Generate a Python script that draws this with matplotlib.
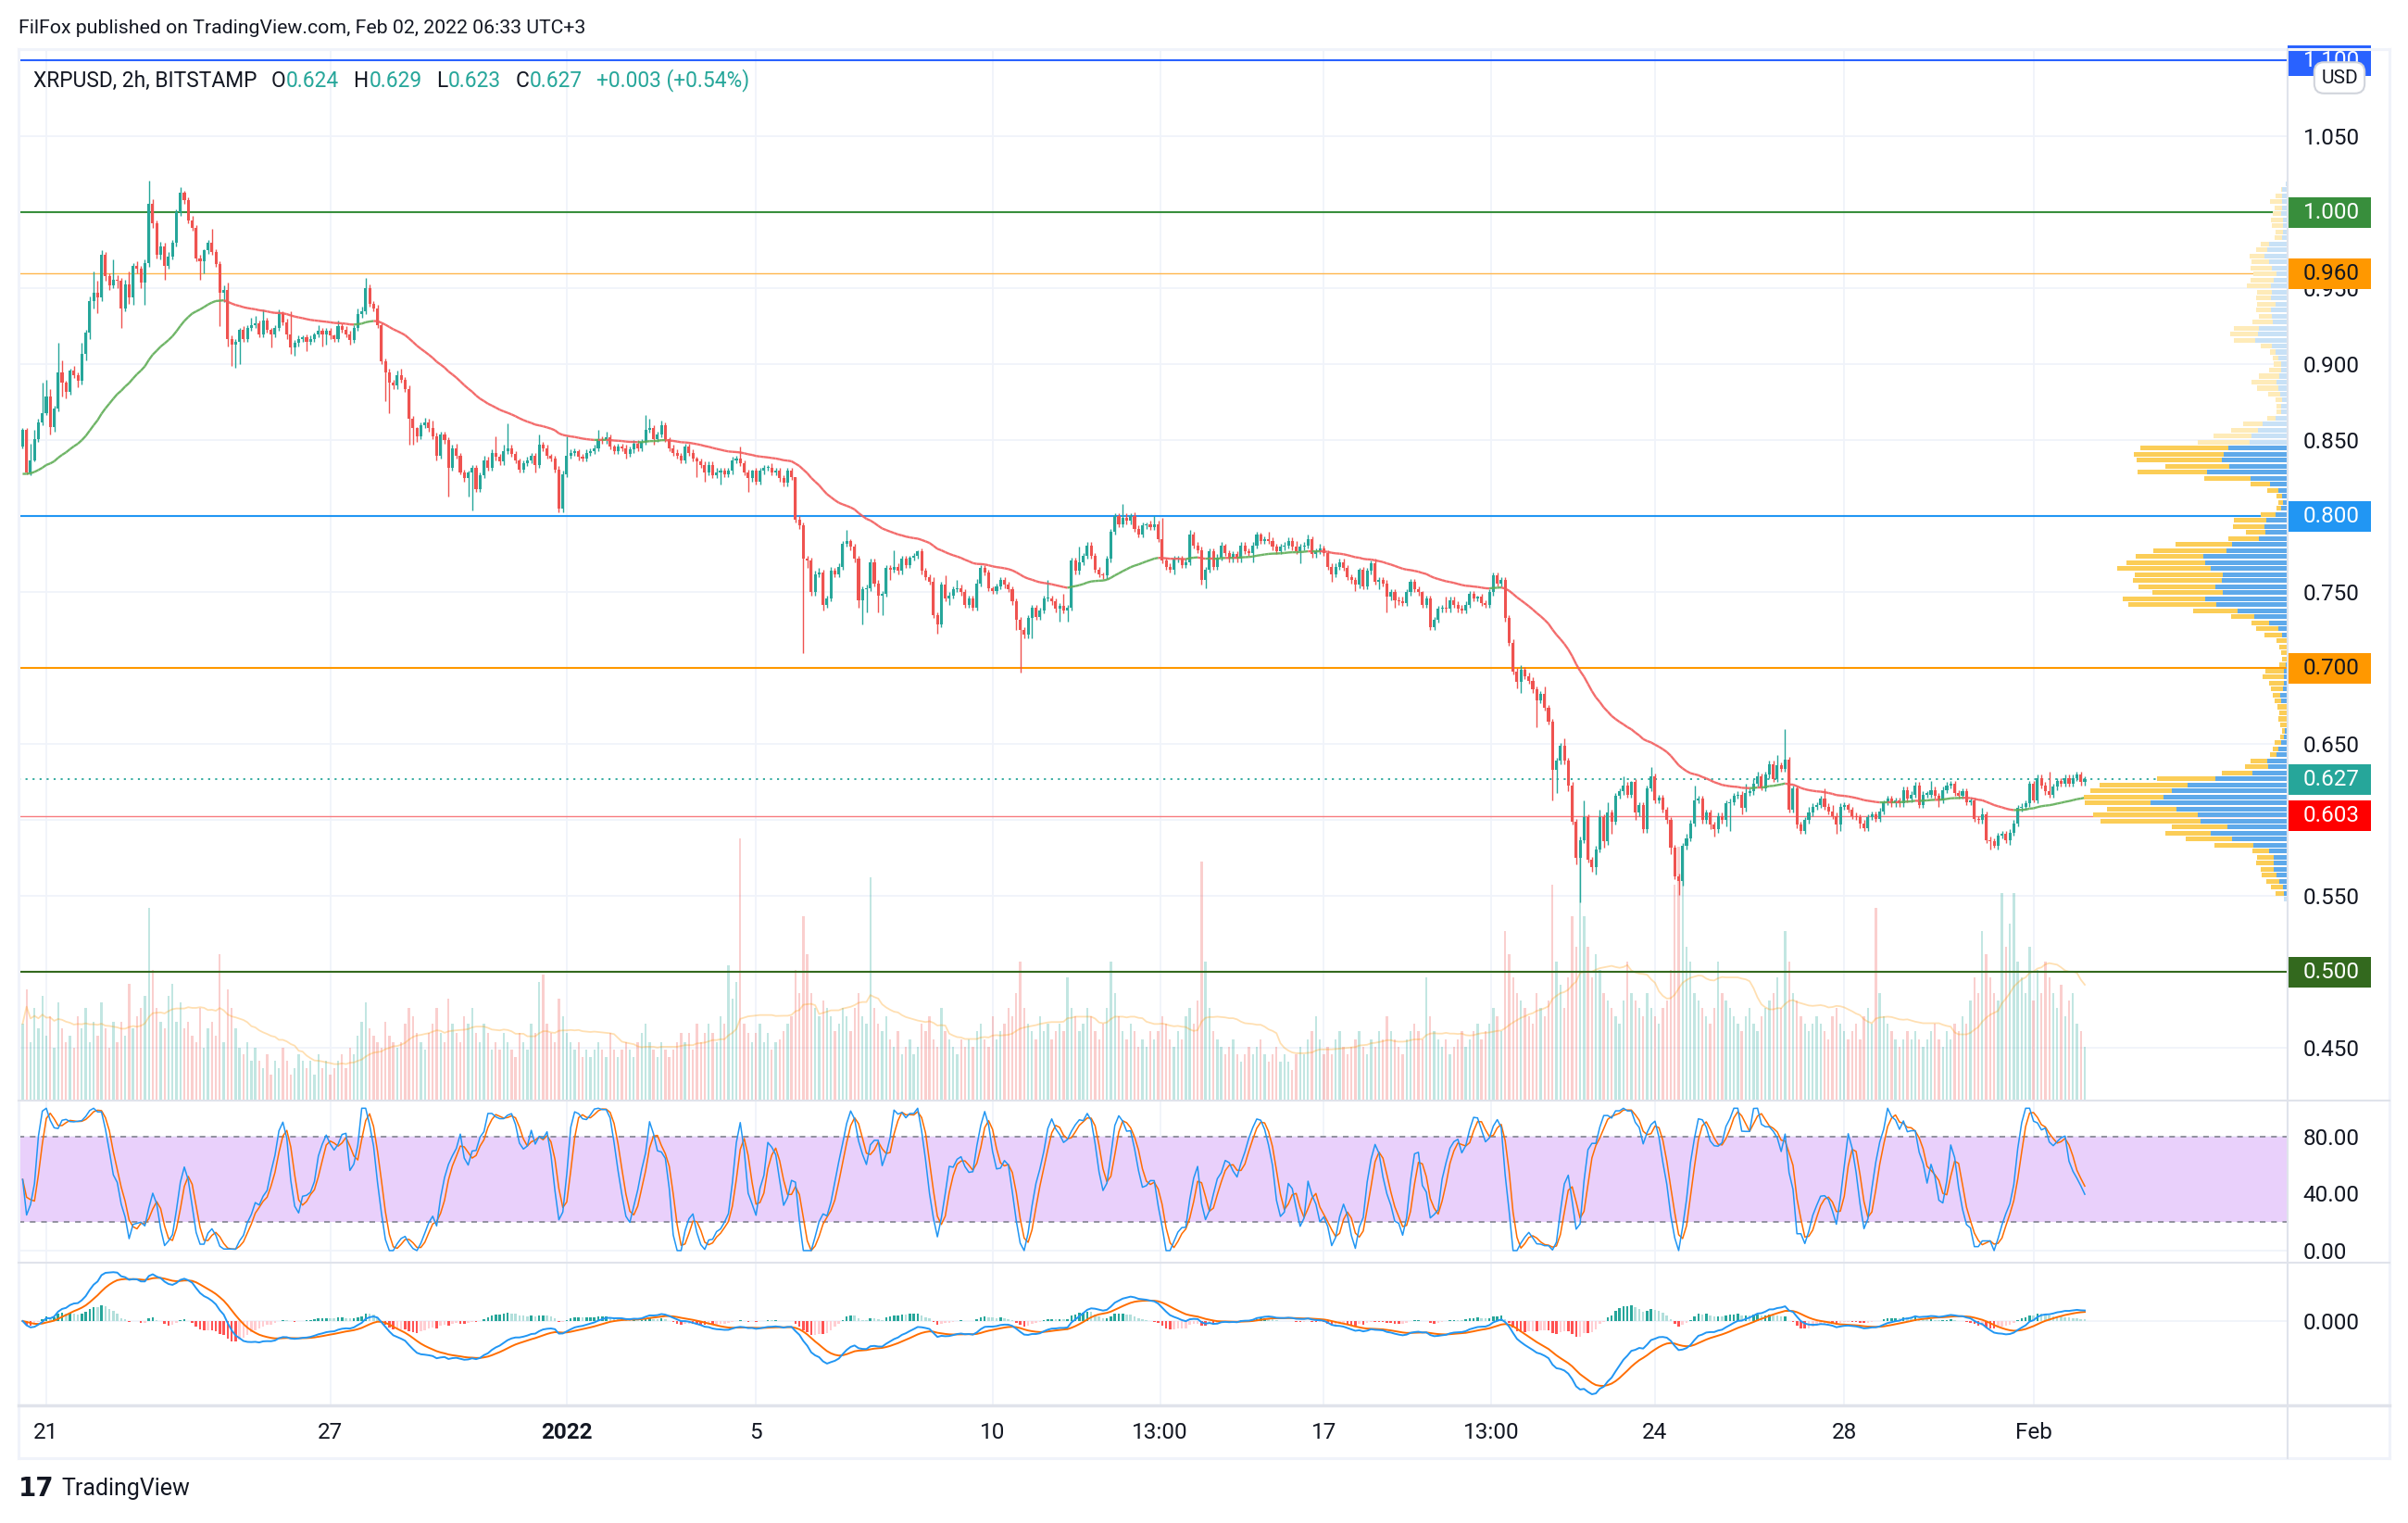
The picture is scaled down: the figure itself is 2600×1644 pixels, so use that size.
import numpy as np
import pandas as pd
import matplotlib
matplotlib.use("Agg")
import matplotlib.pyplot as plt
from matplotlib.collections import LineCollection
from matplotlib.lines import Line2D
from matplotlib.patches import Rectangle
from matplotlib.transforms import blended_transform_factory

plt.rcParams['font.family'] = ['Roboto', 'DejaVu Sans']

# XRPUSD 2h candles (Bitstamp). prices in 1/1000 USD,
# one row = one day (12 bars), first bar Dec 20 12:00
first_open = 846
closes = [
    857, 829, 837, 851, 862, 868, 879, 859, 871, 895, 888, 882,
    896, 893, 889, 907, 921, 942, 947, 944, 972, 958, 952, 956,
    955, 937, 953, 944, 965, 963, 954, 967, 1006, 993, 972, 978,
    965, 971, 980, 1000, 1013, 1008, 995, 990, 970, 968, 975, 980,
    974, 966, 947, 949, 917, 913, 915, 923, 917, 924, 926, 927,
    920, 929, 923, 920, 924, 933, 928, 920, 911, 914, 917, 918,
    915, 917, 920, 922, 920, 922, 919, 917, 925, 923, 920, 916,
    924, 933, 935, 950, 940, 937, 926, 902, 895, 888, 886, 893,
    890, 884, 864, 858, 853, 860, 862, 858, 853, 840, 854, 850,
    832, 845, 840, 829, 825, 829, 832, 818, 827, 837, 832, 842,
    839, 836, 843, 845, 841, 837, 831, 835, 837, 840, 834, 847,
    845, 840, 838, 831, 805, 828, 840, 842, 843, 839, 838, 842,
    843, 845, 851, 850, 852, 846, 843, 846, 845, 841, 844, 848,
    845, 849, 857, 858, 851, 854, 860, 851, 845, 842, 840, 837,
    846, 842, 838, 836, 834, 829, 834, 827, 829, 830, 828, 830,
    837, 838, 835, 829, 825, 830, 823, 830, 832, 832, 829, 830,
    825, 822, 830, 826, 798, 794, 772, 771, 750, 762, 763, 742,
    746, 764, 762, 767, 782, 784, 780, 772, 745, 752, 753, 770,
    756, 748, 749, 766, 765, 767, 764, 772, 768, 773, 774, 777,
    764, 760, 757, 735, 729, 755, 746, 748, 752, 753, 750, 742,
    746, 740, 756, 766, 763, 753, 751, 754, 758, 755, 752, 744,
    732, 725, 722, 733, 740, 734, 738, 746, 746, 744, 739, 741,
    738, 740, 771, 764, 770, 774, 781, 774, 765, 762, 761, 772,
    790, 800, 795, 799, 797, 800, 792, 788, 794, 795, 793, 795,
    785, 771, 767, 765, 772, 772, 768, 770, 788, 781, 778, 758,
    765, 777, 767, 773, 781, 776, 772, 775, 772, 781, 777, 776,
    781, 788, 784, 785, 784, 780, 777, 780, 781, 784, 780, 777,
    780, 781, 785, 775, 777, 779, 776, 767, 762, 767, 770, 766,
    760, 758, 755, 765, 754, 764, 769, 757, 758, 756, 747, 750,
    745, 744, 743, 750, 757, 752, 750, 742, 746, 727, 732, 739,
    740, 739, 745, 742, 739, 738, 742, 749, 746, 747, 743, 742,
    750, 761, 756, 758, 733, 717, 698, 691, 699, 695, 692, 686,
    679, 683, 674, 665, 633, 639, 649, 639, 623, 599, 575, 587,
    602, 574, 569, 581, 602, 586, 605, 599, 616, 619, 623, 617,
    625, 605, 610, 594, 621, 629, 613, 615, 607, 600, 582, 563,
    560, 583, 588, 598, 613, 614, 600, 605, 597, 594, 603, 600,
    611, 612, 616, 617, 608, 618, 619, 624, 629, 621, 630, 637,
    627, 636, 634, 640, 607, 621, 597, 593, 600, 605, 609, 610,
    614, 609, 606, 603, 597, 609, 610, 607, 603, 602, 598, 595,
    602, 604, 601, 606, 612, 614, 611, 613, 611, 620, 614, 617,
    623, 610, 617, 617, 620, 616, 613, 620, 623, 624, 618, 616,
    619, 612, 613, 601, 600, 604, 587, 586, 583, 590, 591, 587,
    592, 598, 608, 609, 611, 624, 613, 628, 623, 619, 617, 622,
    626, 624, 628, 624, 628, 630, 625, 627,
]
# upper / lower wick beyond the body, 1/1000 USD
wick_up = [
    1, 1, 11, 6, 2, 20, 11, 5, 2, 19, 8, 1,
    1, 3, 2, 7, 2, 3, 14, 8, 3, 2, 2, 13,
    3, 2, 3, 8, 2, 3, 2, 2, 15, 3, 2, 3,
    2, 3, 2, 2, 4, 1, 2, 3, 2, 2, 1, 2,
    9, 2, 2, 3, 5, 2, 2, 1, 2, 2, 5, 5,
    2, 7, 2, 1, 2, 3, 2, 2, 15, 2, 2, 1,
    2, 2, 1, 4, 2, 2, 2, 1, 4, 2, 2, 2,
    2, 4, 3, 7, 3, 2, 2, 1, 2, 2, 2, 3,
    4, 2, 2, 2, 1, 2, 3, 2, 5, 2, 2, 2,
    2, 2, 3, 2, 2, 1, 2, 2, 2, 3, 2, 2,
    11, 2, 4, 16, 2, 2, 1, 2, 2, 2, 2, 7,
    2, 2, 1, 2, 2, 2, 13, 2, 2, 1, 2, 2,
    2, 2, 6, 2, 4, 2, 1, 2, 2, 2, 2, 2,
    2, 2, 10, 6, 2, 2, 3, 2, 1, 2, 2, 2,
    2, 2, 2, 1, 2, 2, 2, 2, 3, 2, 2, 2,
    2, 2, 8, 2, 2, 1, 2, 2, 2, 2, 3, 2,
    2, 2, 2, 2, 0, 2, 2, 2, 2, 2, 3, 2,
    2, 3, 2, 2, 2, 7, 1, 2, 2, 2, 2, 2,
    2, 2, 2, 2, 2, 11, 2, 2, 2, 1, 2, 1,
    2, 2, 2, 3, 2, 2, 6, 2, 2, 5, 2, 2,
    2, 2, 3, 2, 2, 2, 1, 2, 2, 2, 2, 2,
    2, 2, 2, 2, 2, 2, 2, 2, 12, 2, 2, 2,
    8, 2, 2, 2, 10, 2, 2, 2, 2, 2, 1, 2,
    2, 2, 2, 9, 3, 2, 3, 2, 2, 1, 2, 5,
    2, 14, 2, 2, 2, 2, 2, 2, 3, 2, 2, 2,
    2, 2, 2, 2, 2, 1, 2, 2, 2, 2, 2, 2,
    2, 2, 1, 2, 5, 2, 2, 2, 2, 2, 2, 4,
    2, 2, 3, 2, 2, 3, 2, 2, 2, 2, 2, 2,
    2, 2, 2, 1, 2, 2, 2, 3, 2, 2, 2, 2,
    2, 2, 3, 2, 2, 2, 2, 1, 2, 2, 2, 2,
    2, 7, 2, 2, 2, 3, 2, 2, 2, 1, 2, 2,
    2, 2, 2, 2, 2, 2, 2, 2, 3, 2, 2, 2,
    2, 2, 5, 2, 2, 2, 2, 5, 2, 2, 2, 2,
    11, 2, 2, 2, 5, 2, 7, 2, 2, 2, 6, 2,
    1, 2, 2, 2, 2, 6, 2, 2, 2, 2, 2, 2,
    2, 2, 3, 2, 10, 2, 2, 2, 2, 2, 2, 2,
    2, 2, 2, 2, 2, 6, 2, 3, 3, 2, 2, 2,
    2, 7, 2, 20, 2, 2, 2, 2, 2, 4, 2, 2,
    2, 7, 2, 4, 2, 2, 2, 1, 2, 2, 2, 2,
    2, 2, 2, 2, 1, 2, 2, 2, 2, 2, 2, 2,
    2, 2, 2, 2, 6, 2, 2, 2, 2, 2, 2, 2,
    2, 2, 2, 2, 2, 4, 2, 2, 2, 2, 2, 2,
    2, 2, 2, 2, 2, 2, 2, 2, 2, 2, 13, 2,
    2, 2, 2, 2, 2, 2, 2, 2,
]
wick_dn = [
    1, 1, 2, 1, 2, 2, 1, 5, 3, 2, 9, 4,
    2, 2, 4, 2, 4, 4, 5, 10, 2, 3, 3, 2,
    5, 13, 2, 4, 5, 3, 4, 15, 3, 3, 2, 3,
    9, 2, 2, 2, 2, 2, 2, 2, 2, 12, 8, 2,
    2, 2, 22, 6, 5, 14, 15, 15, 2, 2, 2, 2,
    2, 2, 2, 9, 2, 2, 2, 3, 4, 5, 2, 2,
    6, 2, 2, 2, 8, 7, 2, 2, 2, 2, 2, 3,
    2, 2, 2, 2, 2, 2, 2, 2, 19, 20, 2, 2,
    2, 2, 17, 11, 4, 2, 2, 2, 2, 3, 2, 2,
    19, 2, 2, 1, 2, 12, 25, 2, 2, 2, 2, 2,
    2, 2, 2, 2, 2, 2, 2, 2, 2, 2, 5, 2,
    2, 2, 2, 2, 2, 2, 2, 2, 2, 2, 2, 2,
    2, 2, 2, 2, 2, 2, 2, 2, 2, 3, 2, 2,
    2, 2, 2, 2, 4, 2, 2, 2, 2, 2, 2, 2,
    2, 2, 2, 10, 2, 6, 2, 2, 2, 8, 2, 2,
    2, 2, 2, 2, 9, 2, 2, 2, 2, 2, 2, 2,
    2, 2, 2, 2, 2, 2, 62, 5, 2, 2, 2, 4,
    2, 2, 2, 2, 2, 2, 2, 2, 5, 16, 15, 2,
    2, 11, 13, 2, 7, 2, 2, 2, 2, 2, 2, 2,
    2, 2, 2, 2, 6, 2, 2, 4, 2, 2, 2, 2,
    2, 2, 2, 2, 2, 2, 2, 2, 2, 2, 2, 2,
    7, 28, 2, 2, 13, 2, 2, 2, 2, 2, 2, 8,
    2, 7, 2, 2, 2, 2, 2, 2, 2, 2, 2, 2,
    2, 2, 2, 2, 2, 2, 2, 2, 2, 2, 2, 2,
    2, 2, 2, 2, 3, 2, 2, 2, 2, 2, 2, 3,
    5, 2, 2, 2, 2, 2, 2, 2, 2, 2, 2, 2,
    6, 2, 2, 2, 2, 2, 2, 2, 2, 2, 2, 2,
    8, 2, 2, 2, 2, 2, 2, 2, 5, 2, 2, 2,
    2, 2, 4, 2, 2, 2, 2, 2, 5, 2, 10, 2,
    5, 2, 2, 2, 2, 2, 2, 2, 2, 2, 2, 2,
    2, 2, 2, 2, 2, 2, 2, 2, 2, 2, 2, 2,
    2, 2, 2, 2, 2, 2, 2, 4, 7, 2, 2, 2,
    18, 2, 2, 2, 20, 15, 2, 2, 4, 2, 4, 29,
    2, 2, 3, 5, 2, 4, 2, 8, 2, 2, 2, 2,
    2, 5, 2, 2, 2, 2, 2, 2, 2, 2, 4, 2,
    9, 3, 2, 2, 2, 2, 2, 2, 3, 5, 2, 2,
    4, 18, 2, 2, 4, 2, 2, 2, 2, 1, 2, 2,
    2, 2, 2, 2, 2, 2, 2, 2, 2, 2, 2, 2,
    2, 2, 2, 2, 6, 4, 2, 2, 2, 2, 3, 2,
    2, 2, 2, 2, 2, 2, 2, 2, 2, 2, 2, 2,
    2, 2, 2, 2, 2, 2, 4, 2, 2, 2, 2, 2,
    2, 2, 2, 2, 2, 2, 2, 5, 1, 2, 2, 2,
    3, 2, 2, 2, 2, 2, 1, 2, 2, 2, 2, 2,
    2, 2, 2, 2, 2, 2, 2, 2,
]
# volume, in relative units (height of the bar on the reference)
volume = [
    50, 72, 38, 60, 47, 68, 42, 55, 34, 64, 47, 38,
    42, 34, 55, 47, 60, 38, 51, 42, 64, 47, 34, 51,
    38, 51, 42, 76, 47, 55, 60, 68, 125, 85, 60, 51,
    47, 68, 76, 51, 64, 47, 51, 42, 38, 60, 34, 47,
    51, 42, 95, 38, 72, 60, 47, 34, 30, 38, 26, 34,
    26, 21, 30, 17, 26, 21, 34, 26, 17, 21, 30, 26,
    21, 26, 17, 30, 21, 26, 17, 21, 26, 30, 21, 34,
    30, 42, 51, 64, 47, 42, 38, 34, 51, 42, 38, 34,
    38, 50, 60, 55, 44, 38, 33, 44, 50, 60, 44, 38,
    66, 50, 44, 38, 55, 50, 60, 44, 38, 50, 44, 33,
    38, 33, 44, 38, 33, 28, 44, 38, 33, 50, 44, 77,
    82, 50, 44, 38, 66, 55, 44, 38, 33, 38, 28, 33,
    28, 33, 38, 33, 28, 44, 33, 28, 33, 38, 33, 28,
    38, 44, 50, 38, 33, 28, 38, 33, 28, 33, 38, 44,
    38, 44, 33, 50, 38, 44, 50, 44, 38, 55, 50, 88,
    66, 77, 170, 50, 44, 38, 44, 50, 38, 44, 33, 38,
    40, 45, 50, 55, 85, 70, 120, 95, 70, 60, 55, 65,
    60, 55, 45, 50, 60, 55, 45, 60, 70, 55, 50, 145,
    60, 50, 45, 55, 40, 35, 45, 30, 35, 40, 30, 35,
    50, 45, 55, 40, 35, 60, 45, 40, 35, 30, 40, 35,
    40, 35, 45, 50, 40, 35, 55, 40, 45, 50, 60, 55,
    70, 90, 60, 50, 45, 40, 55, 45, 50, 40, 45, 50,
    45, 80, 60, 55, 45, 50, 60, 55, 45, 40, 50, 60,
    90, 70, 55, 45, 40, 50, 45, 35, 40, 35, 45, 40,
    45, 55, 50, 40, 35, 45, 40, 55, 60, 50, 65, 155,
    90, 60, 45, 40, 35, 30, 35, 40, 30, 25, 30, 35,
    30, 35, 40, 30, 25, 30, 35, 25, 30, 25, 20, 30,
    35, 30, 40, 45, 55, 40, 30, 35, 30, 40, 45, 35,
    30, 35, 40, 45, 35, 30, 40, 35, 45, 40, 55, 45,
    40, 35, 30, 40, 45, 50, 45, 40, 80, 55, 45, 40,
    35, 40, 30, 35, 40, 45, 35, 40, 45, 50, 40, 45,
    50, 60, 55, 45, 110, 95, 80, 70, 65, 60, 55, 50,
    70, 60, 55, 65, 140, 90, 75, 60, 80, 120, 100, 160,
    120, 100, 80, 95, 85, 70, 65, 60, 55, 50, 65, 90,
    70, 65, 60, 55, 70, 60, 55, 50, 60, 65, 85, 140,
    165, 145, 100, 90, 70, 65, 60, 55, 50, 60, 90, 70,
    65, 60, 55, 50, 45, 55, 60, 50, 45, 55, 60, 65,
    70, 80, 60, 110, 90, 70, 65, 55, 50, 45, 50, 55,
    50, 45, 40, 55, 60, 50, 45, 40, 45, 50, 40, 55,
    60, 50, 125, 70, 55, 50, 45, 40, 35, 40, 45, 40,
    45, 40, 35, 40, 45, 50, 40, 35, 45, 40, 50, 45,
    55, 50, 65, 80, 70, 110, 95, 80, 70, 65, 135, 100,
    115, 135, 90, 80, 70, 100, 65, 85, 70, 90, 80, 70,
    60, 75, 55, 65, 70, 50, 45, 35,
]
assert len(closes) == len(wick_up) == len(wick_dn) == len(volume) == 524

ma_start = 0.828   # moving average value at the first bar

level_prices = [1.100, 1.000, 0.960, 0.800, 0.700, 0.603, 0.500]
level_line_colors = ['#2962ff', '#388e3c', '#ffb74d', '#2196f3', '#ff9800', '#f77c80', '#33691e']
level_box_colors = ['#2962ff', '#388e3c', '#ff9800', '#2196f3', '#ff9800', '#ff0000', '#33691e']
level_text_colors = ['white', 'white', '#131722', 'white', '#131722', 'white', 'white']
last_price = 0.627

tick_times = ['2021-12-21', '2021-12-27', '2022-01-01', '2022-01-05', '2022-01-10',
              '2022-01-13 13:00', '2022-01-17', '2022-01-20 13:00', '2022-01-24',
              '2022-01-28', '2022-02-01']
tick_labels = ['21', '27', '2022', '5', '10', '13:00', '17', '13:00', '24', '28', 'Feb']

# ------------------------------------------------------------------
W, H = 2600, 1644
TXT = '#131722'
UP, DN = '#26a69a', '#ef5350'
GRID = '#f0f3fa'
BORDER = '#e0e3eb'
FS = 17.5
VALUE_AREA = 0.80

n = len(closes)
c = np.array(closes) / 1000
o = np.r_[first_open, closes[:-1]] / 1000
hi = np.maximum(o, c) + np.array(wick_up) / 1000
lo = np.minimum(o, c) - np.array(wick_dn) / 1000
vol = np.array(volume, float)
up = c >= o

day0 = pd.Timestamp('2021-12-21')
times = pd.Timestamp('2021-12-20 12:00') + pd.to_timedelta(np.arange(n) * 2, unit='h')
x = np.asarray((times - day0) / pd.Timedelta(days=1), float)
bw = 1 / 12
tick_x = [(pd.Timestamp(s) - day0) / pd.Timedelta(days=1) for s in tick_times]

XMIN, XMAX = -0.587, 47.37
YMIN, YMAX = 0.4155, 1.1076

fig = plt.figure(figsize=(W / 100, H / 100), dpi=100)


def px_axes(x0, y0, x1, y1):
    return fig.add_axes([x0 / W, 1 - y1 / H, (x1 - x0) / W, (y1 - y0) / H])


ax = px_axes(20, 53, 2470, 1188)
ax_st = px_axes(20, 1188, 2470, 1363)
ax_md = px_axes(20, 1363, 2470, 1517)
for a in (ax, ax_st, ax_md):
    a.set_xlim(XMIN, XMAX)
    a.set_xticks(tick_x)
    a.grid(True, color=GRID, lw=1.3)
    a.set_axisbelow(True)
    for s in a.spines.values():
        s.set_visible(False)
    a.yaxis.tick_right()
    a.tick_params(length=0, labelsize=FS, labelcolor=TXT)
    a.tick_params(axis='y', pad=12)
ax.tick_params(labelbottom=False)
ax_st.tick_params(labelbottom=False)

# ---- price pane ----
ax.set_ylim(YMIN, YMAX)
yt = np.round(np.arange(0.45, 1.0501, 0.05), 3)
covered = set(level_prices) | {0.600}   # hidden behind the price labels
ax.set_yticks(yt)
ax.set_yticklabels(['' if v in covered else f'{v:.3f}' for v in yt])

# volume overlay at the bottom of the pane
vs = (YMAX - YMIN) / 683
vcol = np.where(up, UP, DN)
ax.bar(x, vol * vs, bottom=YMIN, width=bw * 0.55, color=vcol, alpha=0.28, lw=0, zorder=1)
vma = pd.Series(vol).rolling(20, min_periods=1).mean().values
ax.plot(x, YMIN + vma * vs, color='#ff9800', alpha=0.3, lw=1.3, zorder=1.2)

# horizontal levels
for p, lc in zip(level_prices, level_line_colors):
    lw = 1.0 if lc in ('#ffb74d', '#f77c80') else 1.5
    ax.axhline(p, color=lc, lw=lw, zorder=2)
ax.axhline(last_price, color=UP, lw=1.3, ls=(0, (1.2, 3)), zorder=2)

# moving average (EMA 50), green while rising, red while falling
ma = np.empty(n)
ma[0] = ma_start
for i in range(1, n):
    ma[i] = ma[i - 1] + (c[i] - ma[i - 1]) * 2 / 51
segs = np.stack([np.c_[x[:-1], ma[:-1]], np.c_[x[1:], ma[1:]]], axis=1)
seg_col = np.where(np.diff(ma) >= 0, '#5fad56', '#f25c5c')
ax.add_collection(LineCollection(segs, colors=seg_col, lw=1.7, alpha=0.9, zorder=5))

# candles
ax.vlines(x, lo, hi, colors=vcol, lw=1.0, zorder=3)
ax.bar(x, np.maximum(np.abs(c - o), 0.0008), bottom=np.minimum(o, c), width=bw * 0.72,
       color=vcol, lw=0, zorder=4)

# visible range volume profile
n_rows = 120
edges = np.linspace(lo.min(), hi.max(), n_rows + 1)
up_v = np.zeros(n_rows)
dn_v = np.zeros(n_rows)
for i in range(n):
    rng = max(hi[i] - lo[i], 1e-6)
    ov = np.clip(np.minimum(edges[1:], hi[i]) - np.maximum(edges[:-1], lo[i]), 0, None) / rng
    if up[i]:
        up_v += ov * vol[i]
    else:
        dn_v += ov * vol[i]
tot = up_v + dn_v
poc = int(tot.argmax())
a_lo = a_hi = poc
acc = tot[poc]
while acc < VALUE_AREA * tot.sum():
    nxt_hi = tot[a_hi + 1] if a_hi + 1 < n_rows else -1
    nxt_lo = tot[a_lo - 1] if a_lo > 0 else -1
    if nxt_hi >= nxt_lo:
        a_hi += 1
        acc += nxt_hi
    else:
        a_lo -= 1
        acc += nxt_lo
in_va = (np.arange(n_rows) >= a_lo) & (np.arange(n_rows) <= a_hi)
sc = 4.3 / tot.max()
centers = (edges[:-1] + edges[1:]) / 2
rh = (edges[1] - edges[0]) * 0.78
ax.barh(centers, up_v * sc, left=XMAX - up_v * sc, height=rh,
        color=np.where(in_va, '#5ea9ea', '#c8e1f6'), lw=0, zorder=6)
ax.barh(centers, dn_v * sc, left=XMAX - tot * sc, height=rh,
        color=np.where(in_va, '#fbcd57', '#feebb9'), lw=0, zorder=6)

# price scale labels
tr = blended_transform_factory(ax.transAxes, ax.transData)
bh = 0.0201
bwid = 90 / 2450
boxes = list(zip(level_prices, level_box_colors, level_text_colors))
boxes.append((last_price, UP, 'white'))
for p, fc, tc in boxes:
    ax.add_patch(Rectangle((1.0, p - bh / 2), bwid, bh, transform=tr, fc=fc, ec='none',
                           clip_on=False, zorder=20))
    ax.text(1 + 17 / 2450, p, f'{p:.3f}', transform=tr, color=tc, fontsize=FS,
            va='center', ha='left', zorder=21, clip_on=False)

# ---- stochastic RSI ----
cs = pd.Series(c)
dlt = cs.diff().fillna(0)
g = dlt.clip(lower=0).ewm(alpha=1 / 14, adjust=False).mean()
l = (-dlt.clip(upper=0)).ewm(alpha=1 / 14, adjust=False).mean()
rsi = 100 - 100 / (1 + g / l.replace(0, np.nan))
rsi = rsi.fillna(50)
rmin = rsi.rolling(14, min_periods=1).min()
rmax = rsi.rolling(14, min_periods=1).max()
stoch = ((rsi - rmin) / (rmax - rmin).replace(0, np.nan) * 100).fillna(50)
k = stoch.rolling(3, min_periods=1).mean()
d = k.rolling(3, min_periods=1).mean()

ax_st.set_ylim(-8.5, 105.4)
ax_st.axhspan(20, 80, color='#e9d0fb', lw=0, zorder=0.6)
for lvl in (80, 20):
    ax_st.axhline(lvl, color='#787b86', lw=1.1, ls=(0, (4, 4)), zorder=1)
ax_st.plot(x, k, color='#2196f3', lw=1.1, zorder=3)
ax_st.plot(x, d, color='#ff6d00', lw=1.1, zorder=2)
ax_st.set_yticks([0, 40, 80])
ax_st.set_yticklabels(['0.00', '40.00', '80.00'])

# ---- MACD ----
macd = cs.ewm(span=12, adjust=False).mean() - cs.ewm(span=26, adjust=False).mean()
sig = macd.ewm(span=9, adjust=False).mean()
hist = (macd - sig).values
dh = np.diff(hist, prepend=hist[0])
hcol = np.where(hist >= 0, np.where(dh >= 0, '#26a69a', '#b2dfdb'),
                np.where(dh >= 0, '#ffcdd2', '#ff5252'))
ax_md.bar(x, hist, width=bw * 0.6, color=hcol, lw=0, zorder=1)
ax_md.plot(x, macd, color='#2196f3', lw=1.4, zorder=3)
ax_md.plot(x, sig, color='#ff6d00', lw=1.4, zorder=2)
s = 79 / abs(macd.min())
ax_md.set_ylim(-91 / s, 63 / s)
ax_md.set_yticks([0])
ax_md.set_yticklabels(['0.000'])
ax_md.set_xticklabels(tick_labels)
ax_md.tick_params(axis='x', pad=13)
for t in ax_md.get_xticklabels():
    if t.get_text() == '2022':
        t.set_fontweight('bold')


# ---- frame ----
def fline(x0, y0, x1, y1, lw=1.5, color=BORDER):
    fig.add_artist(Line2D([x0 / W, x1 / W], [1 - y0 / H, 1 - y1 / H], color=color, lw=lw))


fline(20, 53, 2580, 53, lw=2.2, color=GRID)
fline(20, 1574, 2580, 1574, lw=2.2, color=GRID)
fline(20, 53, 20, 1574, lw=2.2, color=GRID)
fline(2580, 53, 2580, 1574, lw=2.2, color=GRID)
fline(2470, 53, 2470, 1574)
fline(20, 1188, 2580, 1188)
fline(20, 1363, 2580, 1363)
fline(20, 1517, 2580, 1517, lw=2.5)

# ---- texts ----
fig.text(20 / W, 1 - 31 / H, 'FilFox published on TradingView.com, Feb 02, 2022 06:33 UTC+3',
         fontsize=15.3, color=TXT, va='center', ha='left')

fig.canvas.draw()
rend = fig.canvas.get_renderer()
pieces = [('XRPUSD, 2h, BITSTAMP', TXT, 15), ('O', TXT, 1), ('0.624', UP, 15),
          ('H', TXT, 1), ('0.629', UP, 15), ('L', TXT, 1), ('0.623', UP, 15),
          ('C', TXT, 1), ('0.627', UP, 15), ('+0.003 (+0.54%)', UP, 0)]
xp = 36
for txt, col, gap in pieces:
    t = fig.text(xp / W, 1 - 87 / H, txt, fontsize=16.4, color=col, va='center', ha='left')
    xp += t.get_window_extent(rend).width + gap

fig.text(2526 / W, 1 - 84 / H, 'USD', fontsize=15, color=TXT, ha='center', va='center',
         bbox=dict(boxstyle='round,pad=0.35,rounding_size=0.5', fc='white', ec='#d1d4dc', lw=1.5))

fig.text(20 / W, 1 - 1607 / H, '17', fontsize=20, fontweight='heavy', color=TXT,
         va='center', ha='left', family='DejaVu Sans')
fig.text(66 / W, 1 - 1607 / H, 'TradingView', fontsize=18, color=TXT, va='center', ha='left')

fig.savefig('out.png', dpi=100)
